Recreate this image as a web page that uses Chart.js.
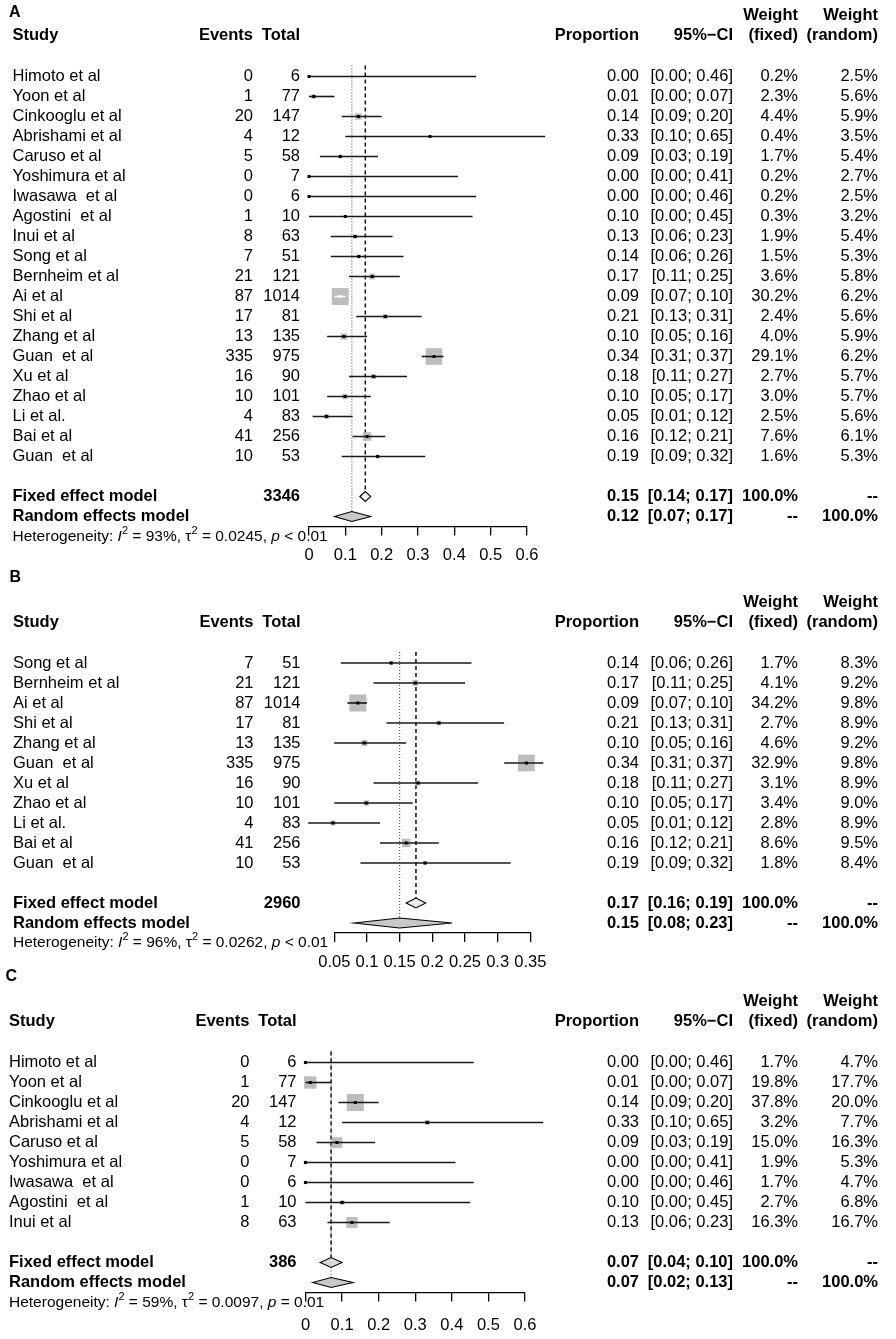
<!DOCTYPE html>
<html><head><meta charset="utf-8">
<script src="https://cdn.jsdelivr.net/npm/chart.js@4.4.1/dist/chart.umd.min.js"></script>
<style>
html,body{margin:0;padding:0;background:#fff;}
body{width:896px;height:1339px;position:relative;overflow:hidden;}
canvas{position:absolute;left:0;}
</style></head><body>
<canvas id="cA" style="top:0px"></canvas>
<canvas id="cB" style="top:570px"></canvas>
<canvas id="cC" style="top:960px"></canvas>
<script>
// ---------- Panel A ----------
const studiesA = ["Himoto et al","Yoon et al","Cinkooglu et al","Abrishami et al","Caruso et al","Yoshimura et al","Iwasawa  et al","Agostini  et al","Inui et al","Song et al","Bernheim et al","Ai et al","Shi et al","Zhang et al","Guan  et al","Xu et al","Zhao et al","Li et al.","Bai et al","Guan  et al"];
const eventsA = [0,1,20,4,5,0,0,1,8,7,21,87,17,13,335,16,10,4,41,10];
const totalsA = [6,77,147,12,58,7,6,10,63,51,121,1014,81,135,975,90,101,83,256,53];
const estA = [0,0.013,0.136,0.333,0.086,0,0,0.1,0.127,0.137,0.174,0.086,0.21,0.096,0.344,0.178,0.099,0.048,0.16,0.189];
const lowerA = [0,0,0.09,0.10,0.03,0,0,0,0.06,0.06,0.11,0.07,0.13,0.05,0.31,0.11,0.05,0.01,0.12,0.09];
const upperA = [0.46,0.07,0.20,0.65,0.19,0.41,0.46,0.45,0.23,0.26,0.25,0.10,0.31,0.16,0.37,0.27,0.17,0.12,0.21,0.32];
const wFixedA = [0.2,2.3,4.4,0.4,1.7,0.2,0.2,0.3,1.9,1.5,3.6,30.2,2.4,4.0,29.1,2.7,3.0,2.5,7.6,1.6];
const wRandomA = [2.5,5.6,5.9,3.5,5.4,2.7,2.5,3.2,5.4,5.3,5.8,6.2,5.6,5.9,6.2,5.7,5.7,5.6,6.1,5.3];
const pooledEstA = [0.155, 0.118];
const pooledLowA = [0.14, 0.07];
const pooledUpA = [0.17, 0.17];
const pooledTextA = [["0.15","[0.14; 0.17]","100.0%","--"],["0.12","[0.07; 0.17]","--","100.0%"]];
const totalSumA = "3346";
const hetA = ["93%","0.0245","< 0.01"];
const ticksA = [0,0.1,0.2,0.3,0.4,0.5,0.6];

// ---------- Panel B ----------
const studiesB = ["Song et al","Bernheim et al","Ai et al","Shi et al","Zhang et al","Guan  et al","Xu et al","Zhao et al","Li et al.","Bai et al","Guan  et al"];
const eventsB = [7,21,87,17,13,335,16,10,4,41,10];
const totalsB = [51,121,1014,81,135,975,90,101,83,256,53];
const estB = [0.137,0.174,0.086,0.21,0.096,0.344,0.178,0.099,0.048,0.16,0.189];
const lowerB = [0.06,0.11,0.07,0.13,0.05,0.31,0.11,0.05,0.01,0.12,0.09];
const upperB = [0.26,0.25,0.10,0.31,0.16,0.37,0.27,0.17,0.12,0.21,0.32];
const wFixedB = [1.7,4.1,34.2,2.7,4.6,32.9,3.1,3.4,2.8,8.6,1.8];
const wRandomB = [8.3,9.2,9.8,8.9,9.2,9.8,8.9,9.0,8.9,9.5,8.4];
const pooledEstB = [0.175, 0.15];
const pooledLowB = [0.16, 0.08];
const pooledUpB = [0.19, 0.23];
const pooledTextB = [["0.17","[0.16; 0.19]","100.0%","--"],["0.15","[0.08; 0.23]","--","100.0%"]];
const totalSumB = "2960";
const hetB = ["96%","0.0262","< 0.01"];
const ticksB = [0.05,0.1,0.15,0.2,0.25,0.3,0.35];

// ---------- Panel C ----------
const studiesC = ["Himoto et al","Yoon et al","Cinkooglu et al","Abrishami et al","Caruso et al","Yoshimura et al","Iwasawa  et al","Agostini  et al","Inui et al"];
const eventsC = [0,1,20,4,5,0,0,1,8];
const totalsC = [6,77,147,12,58,7,6,10,63];
const estC = [0,0.013,0.136,0.333,0.086,0,0,0.1,0.127];
const lowerC = [0,0,0.09,0.10,0.03,0,0,0,0.06];
const upperC = [0.46,0.07,0.20,0.65,0.19,0.41,0.46,0.45,0.23];
const wFixedC = [1.7,19.8,37.8,3.2,15.0,1.9,1.7,2.7,16.3];
const wRandomC = [4.7,17.7,20.0,7.7,16.3,5.3,4.7,6.8,16.7];
const pooledEstC = [0.07, 0.07];
const pooledLowC = [0.04, 0.02];
const pooledUpC = [0.10, 0.13];
const pooledTextC = [["0.07","[0.04; 0.10]","100.0%","--"],["0.07","[0.02; 0.13]","--","100.0%"]];
const totalSumC = "386";
const hetC = ["59%","0.0097","= 0.01"];
const ticksC = [0,0.1,0.2,0.3,0.4,0.5,0.6];

const FONT = '"Liberation Sans", Arial, Helvetica, sans-serif';
const FS = 16.5;

function font(size, bold, italic){
  return (italic?'italic ':'') + (bold?'bold ':'') + size + 'px ' + FONT;
}

function forest(id, P){
  const n = P.studies.length;
  const fixIdx = n + 1, ranIdx = n + 2, axisIdx = n + 2.5;
  const rowH = 20;
  const topPx = P.row0 - rowH;
  const bottomPx = P.row0 + axisIdx * rowH;
  const cv = document.getElementById(id);
  cv.width = 896; cv.height = P.height;
  cv.style.width = '896px'; cv.style.height = P.height + 'px';
  const xmin = P.ticks[0], xmax = P.ticks[P.ticks.length-1];
  const pxPerUnit = (P.x1 - P.x0) / (xmax - xmin);
  const wMax = Math.max.apply(null, P.wFixed);
  const sq = P.wFixed.map(w => 17 * Math.sqrt(w / wMax));
  const inside = P.lower.map((lo,i) => (P.upper[i]-lo)*pxPerUnit <= sq[i]);
  const ciData = [];
  for (let i=0;i<n;i++){
    ciData.push({x:P.lower[i], y:i},{x:P.upper[i], y:i},{x:P.upper[i], y:null});
  }
  const ptData = P.est.map((v,i)=>({x:v, y:i}));

  const drawPlugin = {
    id:'forestText',
    beforeDatasetsDraw(chart){
      const c = chart.ctx, xs = chart.scales.x, ys = chart.scales.y;
      const yTop = ys.getPixelForValue(0) - 11;
      c.save();
      c.strokeStyle = '#111'; c.lineWidth = 1.5; c.setLineDash([4,3]);
      let xf = xs.getPixelForValue(P.pooledEst[0]);
      c.beginPath(); c.moveTo(xf, yTop); c.lineTo(xf, ys.getPixelForValue(fixIdx)-5); c.stroke();
      c.strokeStyle = '#555'; c.lineWidth = 1.1; c.setLineDash([1,2]);
      let xr = xs.getPixelForValue(P.pooledEst[1]);
      c.beginPath(); c.moveTo(xr, yTop); c.lineTo(xr, ys.getPixelForValue(ranIdx)-5); c.stroke();
      c.restore();
    },
    afterDatasetsDraw(chart){
      const c = chart.ctx, xs = chart.scales.x, ys = chart.scales.y;
      c.save();
      [fixIdx, ranIdx].forEach((idx,k)=>{
        const yc = ys.getPixelForValue(idx);
        const xl = xs.getPixelForValue(P.pooledLow[k]);
        const xh = xs.getPixelForValue(P.pooledUp[k]);
        const xe = xs.getPixelForValue(P.pooledEst[k]);
        c.beginPath();
        c.moveTo(xl, yc); c.lineTo(xe, yc-5); c.lineTo(xh, yc); c.lineTo(xe, yc+5); c.closePath();
        c.fillStyle = (k===0 ? P.fixFill : '#c8c8c8'); c.fill();
        c.strokeStyle = '#000'; c.lineWidth = 1.1; c.stroke();
      });
      c.restore();
    },
    afterDraw(chart){
      const c = chart.ctx, ys = chart.scales.y;
      const dx = P.dx;
      c.save();
      c.fillStyle = '#000';
      c.textBaseline = 'middle';
      function t(s, x, y, align, size, bold, italic){
        c.font = font(size, bold, italic); c.textAlign = align; c.fillText(s, x, y);
      }
      const r0 = ys.getPixelForValue(0);
      t(P.letter, 9 + dx, r0 + P.letterOff, 'left', 16, true);
      const yh2 = r0 - 41, yh1 = r0 - 61;
      t('Study', 12.5 + dx, yh2, 'left', FS, true);
      t('Events', 253 + dx, yh2, 'right', FS, true);
      t('Total', 300 + dx, yh2, 'right', FS, true);
      t('Proportion', 639, yh2, 'right', FS, true);
      t('95%\u2212CI', 733, yh2, 'right', FS, true);
      t('Weight', 798, yh1, 'right', FS, true);
      t('(fixed)', 798, yh2, 'right', FS, true);
      t('Weight', 878, yh1, 'right', FS, true);
      t('(random)', 878, yh2, 'right', FS, true);
      for (let i=0;i<n;i++){
        const y = ys.getPixelForValue(i);
        t(P.studies[i], 12.5 + dx, y, 'left', FS);
        t(String(P.events[i]), 253 + dx, y, 'right', FS);
        t(String(P.totals[i]), 300 + dx, y, 'right', FS);
        t(P.est[i].toFixed(2), 639, y, 'right', FS);
        t('[' + P.lower[i].toFixed(2) + '; ' + P.upper[i].toFixed(2) + ']', 733, y, 'right', FS);
        t(P.wFixed[i].toFixed(1) + '%', 798, y, 'right', FS);
        t(P.wRandom[i].toFixed(1) + '%', 878, y, 'right', FS);
      }
      const names = ['Fixed effect model','Random effects model'];
      [fixIdx, ranIdx].forEach((idx,k)=>{
        const y = ys.getPixelForValue(idx);
        t(names[k], 12.5 + dx, y, 'left', FS, true);
        if (k===0) t(P.totalSum, 300 + dx, y, 'right', FS, true);
        const tx = P.pooledText[k];
        t(tx[0], 639, y, 'right', FS, true);
        t(tx[1], 733, y, 'right', FS, true);
        t(tx[2], 798, y, 'right', FS, true);
        t(tx[3], 878, y, 'right', FS, true);
      });
      const yhe = ys.getPixelForValue(ranIdx) + 20;
      const segs = [
        ['Heterogeneity: ',0],['I',1],['2',2],[' = ' + P.het[0] + ', ',0],['\u03c4',0],['2',2],
        [' = ' + P.het[1] + ', ',0],['p',1],[' ' + P.het[2],0]
      ];
      let x = 12.5 + dx;
      c.textAlign = 'left';
      segs.forEach(s=>{
        if (s[1]===2){ c.font = font(11); c.fillText(s[0], x, yhe - 6); }
        else { c.font = font(15.5, false, s[1]===1); c.fillText(s[0], x, yhe); }
        x += c.measureText(s[0]).width;
      });
      c.restore();
    }
  };

  new Chart(cv, {
    type:'scatter',
    data:{datasets:[
      { type:'scatter', data: ptData, pointStyle:'rect',
        pointRadius: 2.1, pointBackgroundColor: ctx => inside[ctx.dataIndex] ? '#fff' : '#000',
        pointBorderWidth: 0, order:1, clip:false },
      { type:'line', data: ciData, borderColor:'#1a1a1a', borderWidth:1.6, pointRadius:0,
        spanGaps:false, fill:false, order:2, clip:false,
        segment:{ borderColor: ctx => inside[Math.floor(ctx.p0DataIndex/3)] ? '#fff' : '#1a1a1a' } },
      { type:'scatter', data: ptData, pointStyle:'rect',
        pointRadius: ctx => sq[ctx.dataIndex] / Math.SQRT2,
        pointBackgroundColor:'#bdbdbd', pointBorderWidth:0, order:3, clip:false }
    ]},
    options:{
      responsive:false, animation:false, events:[],
      layout:{ padding:{ left:P.x0, right:896 - P.x1, top:topPx, bottom:P.height - 40 - bottomPx } },
      plugins:{ legend:{display:false}, tooltip:{enabled:false} },
      scales:{
        x:{ type:'linear', position:'bottom', min:xmin, max:xmax,
            afterFit: s => { s.height = 40; },
            afterBuildTicks: s => { s.ticks = P.ticks.map(v => ({value:v})); },
            grid:{ drawOnChartArea:false, drawTicks:true, tickLength:9, color:'#000', lineWidth:1.3 },
            border:{ display:true, color:'#000', width:1.3 },
            ticks:{ autoSkip:false, maxRotation:0, padding:P.tickPad, color:'#000',
                    font:{ family:FONT, size:16.5 }, callback: v => String(+(+v).toFixed(2)) } },
        y:{ type:'linear', display:false, reverse:true, min:-1, max:axisIdx }
      }
    },
    plugins:[drawPlugin]
  });
}

forest('cA', { studies:studiesA, events:eventsA, totals:totalsA, est:estA, lower:lowerA, upper:upperA,
  wFixed:wFixedA, wRandom:wRandomA, pooledEst:pooledEstA, pooledLow:pooledLowA, pooledUp:pooledUpA,
  pooledText:pooledTextA, totalSum:totalSumA, het:hetA, ticks:ticksA, tickPad:10,
  height:570, row0:76.5, x0:309, x1:527, dx:0, letter:'A', letterOff:-64, fixFill:'#f4f4f4' });
forest('cB', { studies:studiesB, events:eventsB, totals:totalsB, est:estB, lower:lowerB, upper:upperB,
  wFixed:wFixedB, wRandom:wRandomB, pooledEst:pooledEstB, pooledLow:pooledLowB, pooledUp:pooledUpB,
  pooledText:pooledTextB, totalSum:totalSumB, het:hetB, ticks:ticksB, tickPad:11,
  height:420, row0:93, x0:334.3, x1:530.3, dx:0.5, letter:'B', letterOff:-85, fixFill:'#eeeeee' });
forest('cC', { studies:studiesC, events:eventsC, totals:totalsC, est:estC, lower:lowerC, upper:upperC,
  wFixed:wFixedC, wRandom:wRandomC, pooledEst:pooledEstC, pooledLow:pooledLowC, pooledUp:pooledUpC,
  pooledText:pooledTextC, totalSum:totalSumC, het:hetC, ticks:ticksC, tickPad:14,
  height:379, row0:102.5, x0:305.5, x1:525, dx:-3.5, letter:'C', letterOff:-85.5, fixFill:'#d8d8d8' });
</script>
</body></html>
